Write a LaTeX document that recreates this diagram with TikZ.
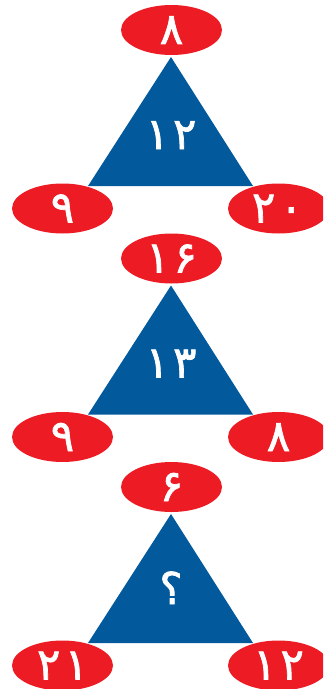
\documentclass[tikz,border=0pt]{standalone}
\usepackage{fontspec}
\newfontfamily\arabicfont[Script=Arabic, FakeBold=1.6]{DejaVu Sans}
\usetikzlibrary{shapes.geometric}
\definecolor{ored}{HTML}{ED1C24}
\definecolor{oblue}{HTML}{02599C}
\newcommand{\gp}{\kern4bp}
\begin{document}
\begin{tikzpicture}[x=1bp,y=-1bp,
  oval/.style={ellipse, fill=ored, minimum width=101bp, minimum height=50bp, inner sep=0pt},
  tri/.style={fill=oblue},
  numtext/.style={inner sep=0pt, text=white, text height=28bp, text depth=0pt,
    font=\arabicfont\fontsize{44}{44}\selectfont}]
\useasboundingbox (0,0) rectangle (323,689);
\clip (0,0) rectangle (323,689);
% set 1
\coordinate (a1) at (171,57);
\coordinate (b1) at (88,186);
\coordinate (c1) at (253,186);
\fill[tri] (a1) -- (b1) -- (c1) -- cycle;
\node[numtext] (m1) at (171,135) {۱\gp۲};
\node[oval] (t1) at (171.5,30) {};
\node[oval] (l1) at (62.5,208.5) {};
\node[oval] (r1) at (278.5,208.5) {};
\node[numtext] (tt1) at (t1) {۸};
\node[numtext] (tl1) at (l1) {۹};
\node[numtext] (tr1) at ([xshift=-1bp]r1) {۲\gp۰};
% set 2
\coordinate (a2) at (171,285.5);
\coordinate (b2) at (88,414.5);
\coordinate (c2) at (253,414.5);
\fill[tri] (a2) -- (b2) -- (c2) -- cycle;
\node[numtext] (m2) at (171,363.5) {۱\gp۳};
\node[oval] (t2) at (171.5,258.5) {};
\node[oval] (l2) at (62.5,437) {};
\node[oval] (r2) at (278.5,437) {};
\node[numtext] (tt2) at (t2) {۱\gp۶};
\node[numtext] (tl2) at (l2) {۹};
\node[numtext] (tr2) at (r2) {۸};
% set 3
\coordinate (a3) at (171,514);
\coordinate (b3) at (88,643);
\coordinate (c3) at (253,643);
\fill[tri] (a3) -- (b3) -- (c3) -- cycle;
\node[numtext] (m3) at (171,590) {؟};
\node[oval] (t3) at (171.5,487) {};
\node[oval] (l3) at (62.5,665.5) {};
\node[oval] (r3) at (278.5,665.5) {};
\node[numtext] (tt3) at (t3) {۶};
\node[numtext] (tl3) at (l3) {۲\gp۱};
\node[numtext] (tr3) at (r3) {۱\gp۲};
\end{tikzpicture}
\end{document}
